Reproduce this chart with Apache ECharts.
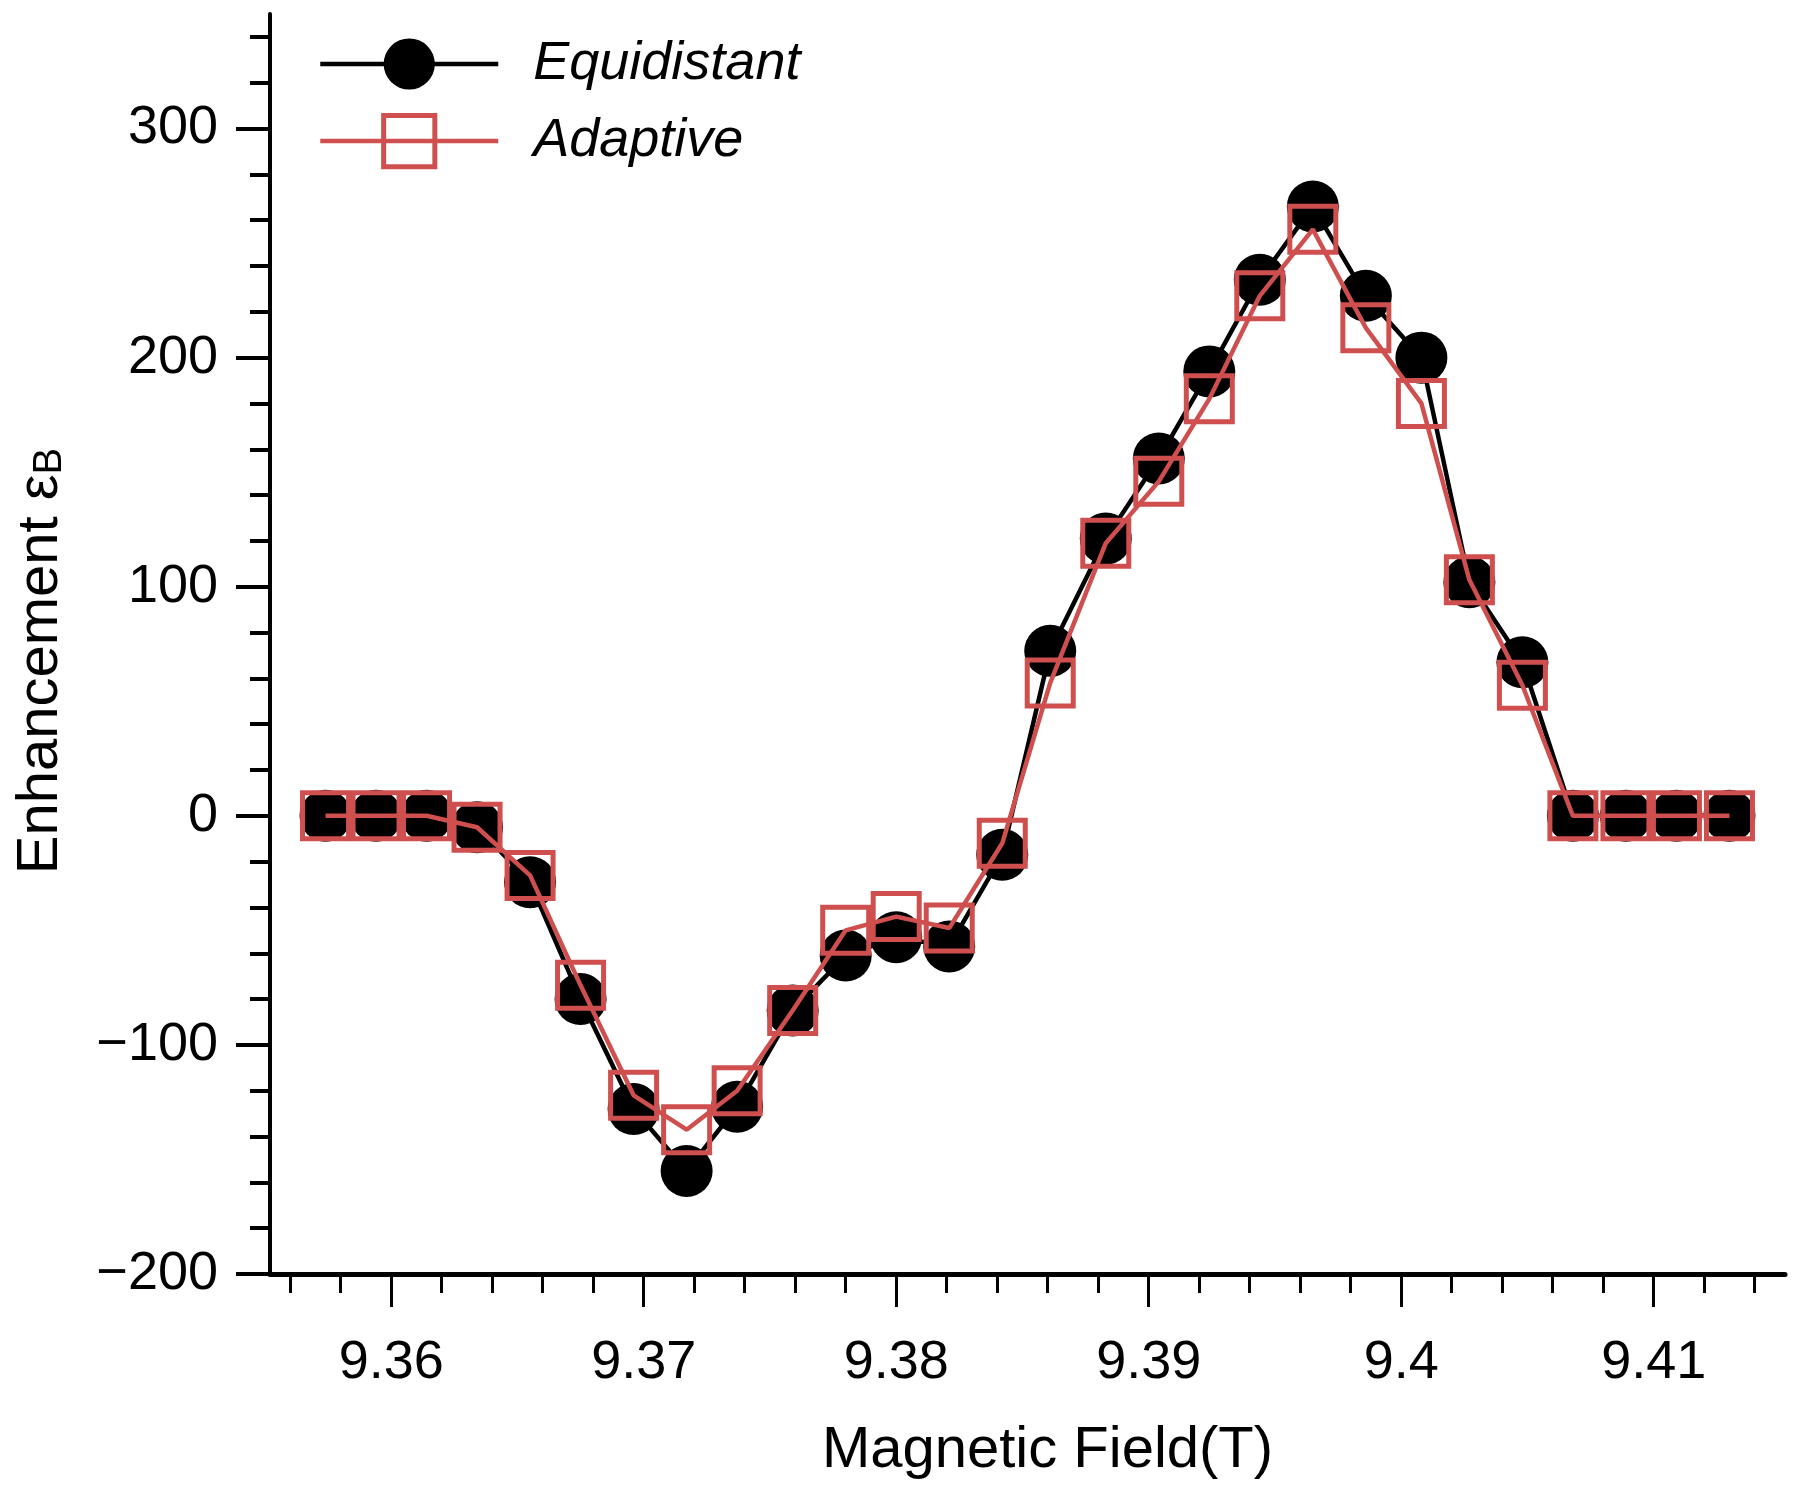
<!DOCTYPE html>
<html>
<head>
<meta charset="utf-8">
<script src="https://cdn.jsdelivr.net/npm/echarts@6/dist/echarts.min.js"></script>
<style>html,body{margin:0;padding:0;background:#fff}#c{width:1800px;height:1495px}</style>
</head>
<body>
<div id="c"></div>
<script>
const fieldT = [9.3574, 9.3594, 9.3614, 9.3634, 9.3655, 9.3675, 9.3696, 9.3717, 9.3737, 9.3759,
  9.3780, 9.3800, 9.3821, 9.3842, 9.3861, 9.3883, 9.3904, 9.3924, 9.3944, 9.3965,
  9.3986, 9.4008, 9.4027, 9.4048, 9.4068, 9.4089, 9.4109, 9.4130];
const equidistant = [0, 0, 0, -5, -29, -80, -128, -155, -127, -85,
  -61, -53, -57, -17, 72, 121, 156, 194, 234, 266,
  227, 200, 102, 67, 0, 0, 0, 0];
const adaptive = [0, 0, 0, -5, -26, -74, -122, -137, -120, -85,
  -50, -44, -49, -12, 58, 119, 146, 182, 227, 256,
  213, 180, 103, 57, 0, 0, 0, 0];
const xMajorTicks = [9.36, 9.37, 9.38, 9.39, 9.40, 9.41];
const xMinorTicks = [9.356, 9.358, 9.362, 9.364, 9.366, 9.368, 9.372, 9.374, 9.376, 9.378,
  9.382, 9.384, 9.386, 9.388, 9.392, 9.394, 9.396, 9.398, 9.402, 9.404, 9.406, 9.408, 9.412, 9.414];
const yMajorTicks = [-200, -100, 0, 100, 200, 300];
const yMinorTicks = [-180, -160, -140, -120, -80, -60, -40, -20, 20, 40, 60, 80,
  120, 140, 160, 180, 220, 240, 260, 280, 320, 340];

const FONT = 'Liberation Sans';
const RED = '#cf4f4f';
const xMin = 9.3552, xMax = 9.4152, yMin = -200, yMax = 350;

const chart = echarts.init(document.getElementById('c'), null, {renderer: 'canvas'});
const pair = (xs, ys) => xs.map((x, i) => [x, ys[i]]);
const fmtX = v => String(Number(v.toFixed(3)));

chart.setOption({
  animation: false,
  backgroundColor: '#fff',
  textStyle: {fontFamily: FONT, color: '#000'},
  grid: {left: 270, right: 15, top: 14, bottom: 221, outerBoundsMode: 'none', containLabel: false},
  legend: {
    left: 313, top: 32, orient: 'vertical',
    itemWidth: 178, itemHeight: 64, itemGap: 22,
    lineStyle: {width: 4.5},
    itemStyle: {borderWidth: 5},
    textStyle: {fontFamily: FONT, fontStyle: 'italic', fontSize: 54, color: '#000', padding: [0, 0, 0, 30]},
    data: ['Equidistant', 'Adaptive']
  },
  xAxis: [{
    type: 'value', min: xMin, max: xMax, position: 'bottom',
    name: 'Magnetic Field(T)', nameLocation: 'middle', nameGap: 148,
    nameTextStyle: {fontFamily: FONT, fontSize: 58, color: '#000', padding: [0, 0, 0, 40]},
    axisLine: {show: true, onZero: false, lineStyle: {color: '#000', width: 5}},
    axisTick: {show: true, customValues: xMajorTicks, length: 33, lineStyle: {color: '#000', width: 3}},
    axisLabel: {customValues: xMajorTicks, formatter: fmtX, margin: 62, fontFamily: FONT, fontSize: 54, color: '#000'},
    splitLine: {show: false}
  }, {
    type: 'value', min: xMin, max: xMax, position: 'bottom',
    axisLine: {show: false, onZero: false},
    axisTick: {show: true, customValues: xMinorTicks, length: 19, lineStyle: {color: '#000', width: 3}},
    axisLabel: {show: false},
    splitLine: {show: false}
  }],
  yAxis: [{
    type: 'value', min: yMin, max: yMax, position: 'left',
    name: '{a|Enhancement ε}{b|B}', nameLocation: 'middle', nameGap: 200,
    nameTextStyle: {
      fontFamily: FONT, color: '#000', padding: [0, 34, 0, 0],
      rich: {a: {fontFamily: FONT, fontSize: 58, color: '#000'},
             b: {fontFamily: FONT, fontSize: 40, color: '#000', padding: [18, 0, 0, 0]}}
    },
    axisLine: {show: true, onZero: false, lineStyle: {color: '#000', width: 4}},
    axisTick: {show: true, customValues: yMajorTicks, length: 34, lineStyle: {color: '#000', width: 4}},
    axisLabel: {customValues: yMajorTicks, margin: 52, fontFamily: FONT, fontSize: 54, color: '#000',
      formatter: v => (v < 0 ? '\u2212' + Math.abs(v) : String(v))},
    splitLine: {show: false}
  }, {
    type: 'value', min: yMin, max: yMax, position: 'left',
    axisLine: {show: false, onZero: false},
    axisTick: {show: true, customValues: yMinorTicks, length: 20, lineStyle: {color: '#000', width: 4}},
    axisLabel: {show: false},
    splitLine: {show: false}
  }],
  series: [{
    name: 'Equidistant', type: 'line', xAxisIndex: 0, yAxisIndex: 0,
    data: pair(fieldT, equidistant),
    smooth: false, symbol: 'circle', symbolSize: 52, z: 2,
    lineStyle: {color: '#000', width: 4.5},
    itemStyle: {color: '#000', borderWidth: 0}
  }, {
    name: 'Adaptive', type: 'line', xAxisIndex: 0, yAxisIndex: 0,
    data: pair(fieldT, adaptive),
    smooth: false, symbol: 'rect', symbolSize: 46, z: 3,
    lineStyle: {color: RED, width: 4.5},
    itemStyle: {color: 'rgba(0,0,0,0)', borderColor: RED, borderWidth: 5}
  }]
});
</script>
</body>
</html>
